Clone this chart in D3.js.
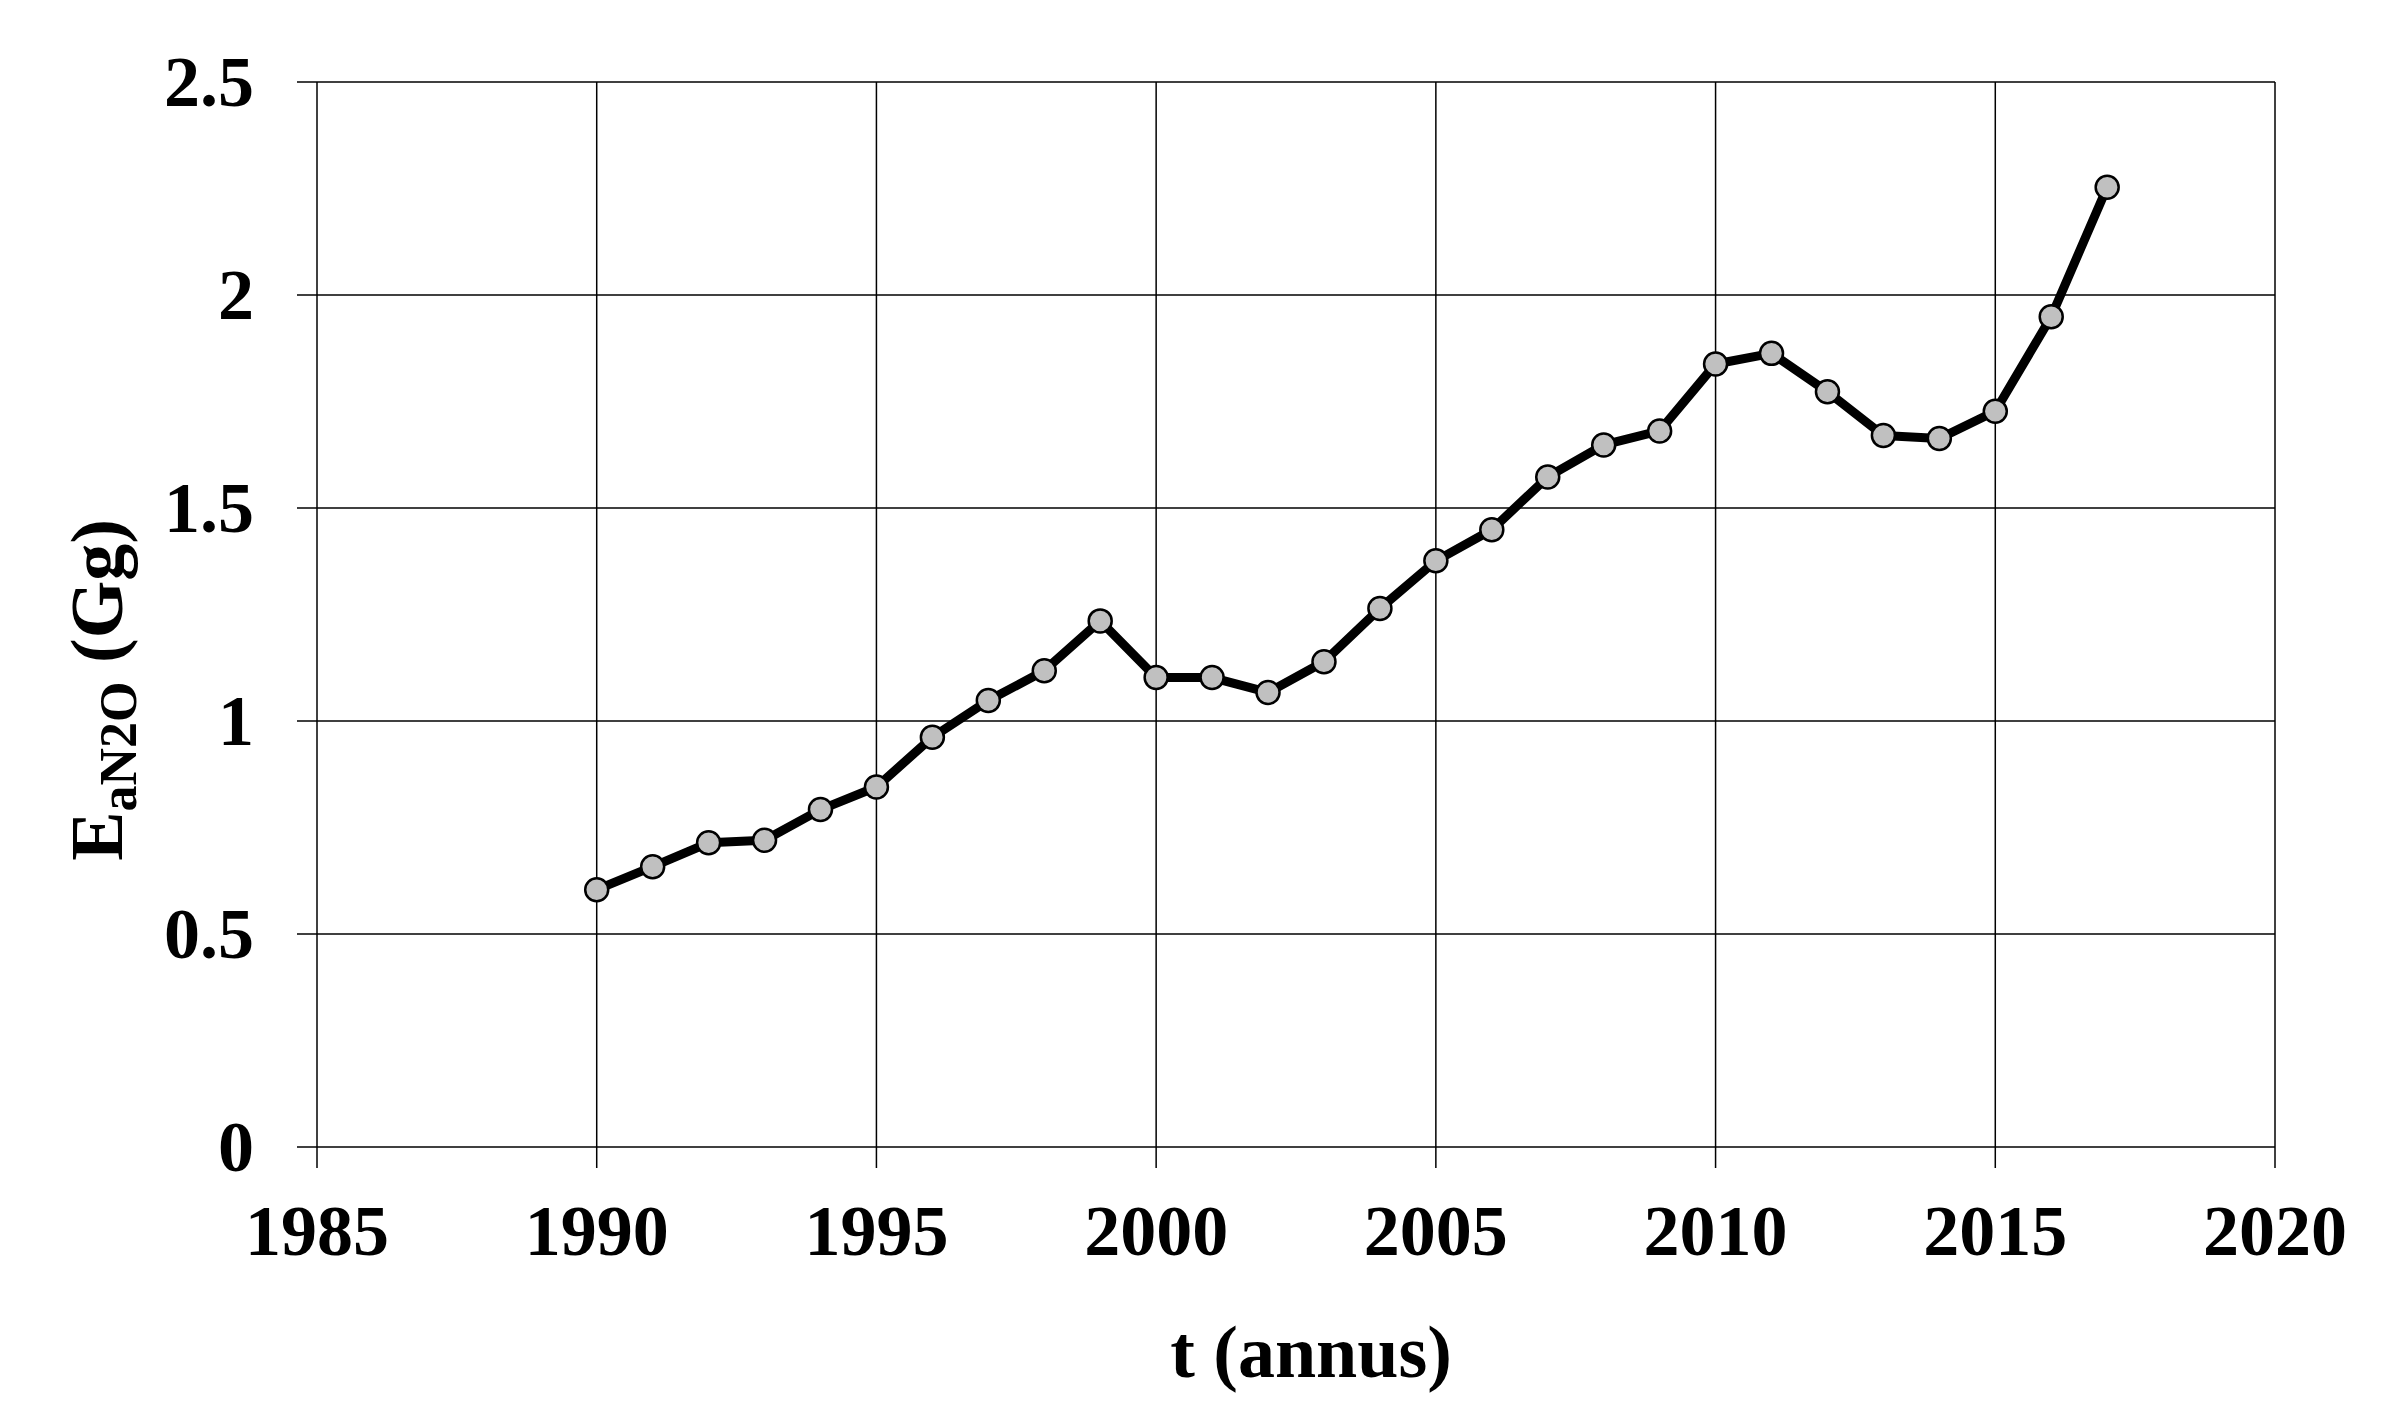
<!DOCTYPE html>
<html>
<head>
<meta charset="utf-8">
<script src="https://cdnjs.cloudflare.com/ajax/libs/d3/7.8.5/d3.min.js"></script>
<style>
  body { margin: 0; background: #fff; }
  text { font-family: "Liberation Serif", "Times New Roman", serif; font-weight: bold; fill: #000; }
</style>
</head>
<body>
<div id="chart"></div>
<script>
// years and emission values (Gg)
var years = [1990, 1991, 1992, 1993, 1994, 1995, 1996, 1997, 1998, 1999,
             2000, 2001, 2002, 2003, 2004, 2005, 2006, 2007, 2008, 2009,
             2010, 2011, 2012, 2013, 2014, 2015, 2016, 2017];
var emissions = [0.604, 0.658, 0.714, 0.720, 0.792, 0.845, 0.962, 1.048, 1.118, 1.235,
                 1.102, 1.102, 1.067, 1.139, 1.264, 1.376, 1.449, 1.573, 1.648, 1.681,
                 1.838, 1.863, 1.773, 1.670, 1.663, 1.727, 1.949, 2.253];
var xTicks = [1985, 1990, 1995, 2000, 2005, 2010, 2015, 2020];
var yTicks = [0, 0.5, 1, 1.5, 2, 2.5];

var W = 2391, H = 1419;
// plot area edges (window.top is read-only, so use other names)
var plotL = 317, plotR = 2275, plotT = 82, plotB = 1147;

var svg = d3.select("#chart").append("svg")
    .attr("width", W)
    .attr("height", H);

var x = d3.scaleLinear().domain([1985, 2020]).range([plotL, plotR]);
var y = d3.scaleLinear().domain([0, 2.5]).range([plotB, plotT]);

// grid lines with outside tick marks
svg.append("g")
    .selectAll("line")
    .data(yTicks)
    .enter().append("line")
    .attr("x1", plotL - 20)
    .attr("x2", plotR)
    .attr("y1", function (d) { return y(d); })
    .attr("y2", function (d) { return y(d); })
    .style("stroke", "#000")
    .style("stroke-width", 1.5);

svg.append("g")
    .selectAll("line")
    .data(xTicks)
    .enter().append("line")
    .attr("x1", function (d) { return x(d); })
    .attr("x2", function (d) { return x(d); })
    .attr("y1", plotT)
    .attr("y2", plotB + 21)
    .style("stroke", "#000")
    .style("stroke-width", 1.5);

// tick labels
svg.append("g")
    .selectAll("text")
    .data(yTicks)
    .enter().append("text")
    .attr("x", 254)
    .attr("y", function (d) { return y(d); })
    .attr("dy", "0.34em")
    .style("font-size", "72px")
    .style("text-anchor", "end")
    .text(function (d) { return d; });

svg.append("g")
    .selectAll("text")
    .data(xTicks)
    .enter().append("text")
    .attr("x", function (d) { return x(d); })
    .attr("y", 1255)
    .style("font-size", "72px")
    .style("text-anchor", "middle")
    .text(function (d) { return d; });

// the series
var pts = years.map(function (d, i) { return [d, emissions[i]]; });

svg.append("path")
    .datum(pts)
    .attr("d", d3.line()
        .x(function (d) { return x(d[0]); })
        .y(function (d) { return y(d[1]); }))
    .style("fill", "none")
    .style("stroke", "#000")
    .style("stroke-width", 9)
    .style("stroke-linejoin", "round");

svg.append("g")
    .selectAll("circle")
    .data(pts)
    .enter().append("circle")
    .attr("cx", function (d) { return x(d[0]); })
    .attr("cy", function (d) { return y(d[1]); })
    .attr("r", 11.5)
    .style("fill", "#c0c0c0")
    .style("stroke", "#000")
    .style("stroke-width", 2.5);

// axis titles
svg.append("text")
    .attr("x", 1311)
    .attr("y", 1377)
    .style("font-size", "74px")
    .style("text-anchor", "middle")
    .text("t (annus)");

var yt = svg.append("text")
    .attr("transform", "translate(122, 690) rotate(-90)")
    .style("font-size", "74px")
    .style("text-anchor", "middle");
yt.append("tspan").text("E");
yt.append("tspan").attr("dy", 14).style("font-size", "52px").text("aN2O");
yt.append("tspan").attr("dy", -14).text(" (Gg)");
</script>
</body>
</html>
